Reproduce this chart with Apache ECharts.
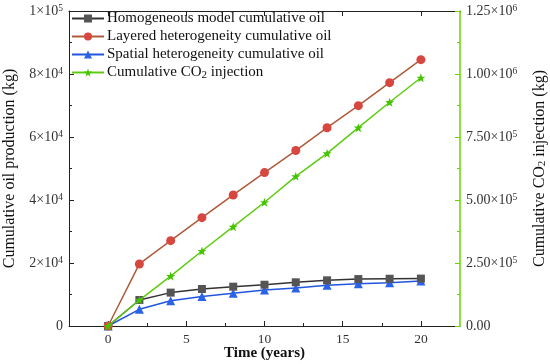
<!DOCTYPE html>
<html><head><meta charset="utf-8">
<script src="https://cdn.jsdelivr.net/npm/echarts@6/dist/echarts.min.js"></script>
<style>html,body{margin:0;padding:0;background:#fff}#c{width:550px;height:364px}</style>
</head><body><div id="c"></div>
<script>
const years = [0, 2, 4, 6, 8, 10, 12, 14, 16, 18, 20];
const homogeneousOil = [0, 8250, 10600, 11750, 12480, 13100, 13870, 14500, 14900, 15000, 15050];
const layeredOil = [0, 19700, 27100, 34400, 41600, 48700, 55700, 62950, 69950, 77250, 84550];
const spatialOil = [0, 5300, 8000, 9400, 10400, 11400, 12060, 12900, 13430, 13750, 14300];
const co2Injection = [0, 103000, 198000, 297500, 394000, 491000, 594000, 685000, 787000, 888000, 985000];
const seriesNames = ['Homogeneous model cumulative oil', 'Layered heterogeneity cumulative oil', 'Spatial heterogeneity cumulative oil', 'Cumulative CO2 injection'];
const xTickLabels = ['0', '5', '10', '15', '20'];
const xTickValues = [0, 5, 10, 15, 20];
const xMinorValues = [2.5, 7.5, 12.5, 17.5];
const leftTickLabels = ['0', '2×10{sup|4}', '4×10{sup|4}', '6×10{sup|4}', '8×10{sup|4}', '1×10{sup|5}'];
const rightTickLabels = ['0.00', '2.50×10{sup|5}', '5.00×10{sup|5}', '7.50×10{sup|5}', '1.00×10{sup|6}', '1.25×10{sup|6}'];

const serif = 'Liberation Serif';
const richSup = { sup: { fontSize: 9.5, verticalAlign: 'top', padding: [0, 0, 6, 0], fontFamily: serif, color: '#333' } };
const pair = (xs, ys) => xs.map((x, i) => [x, ys[i]]);

const chart = echarts.init(document.getElementById('c'));
chart.setOption({
  animation: false,
  grid: { left: 69, right: 90, top: 11, bottom: 38, outerBoundsMode: 'none', containLabel: false },
  legend: {
    orient: 'vertical', left: 66, top: 6, itemWidth: 32, itemHeight: 10, itemGap: 3,
    textStyle: { fontFamily: serif, fontSize: 15, color: '#111', padding: [0,0,0,-2], rich: { sub: { fontFamily: serif, fontSize: 11, verticalAlign: 'bottom', padding: [6, 0, 0, 0], color: '#111' }, n: {fontFamily: serif, fontSize: 15, color: '#111'} } },
    formatter: n => n === 'Cumulative CO2 injection' ? '{n|Cumulative CO}{sub|2}{n| injection}' : n,
    data: seriesNames
  },
  xAxis: [
    { type: 'value', min: -2.5, max: 22.5, position: 'bottom',
      name: 'Time (years)', nameLocation: 'middle', nameGap: 20, nameMoveOverlap: false,
      nameTextStyle: { fontFamily: serif, fontSize: 15, fontWeight: 'bold', color: '#111' },
      axisLine: { onZero: false, lineStyle: { color: '#222', width: 1 } },
      axisTick: { inside: true, length: 5, customValues: xTickValues, lineStyle: { color: '#222' } },
      axisLabel: { customValues: xTickValues, formatter: v => xTickLabels[xTickValues.indexOf(v)] || '', fontFamily: serif, fontSize: 13.5, color: '#333', margin: 6 },
      splitLine: { show: false } },
    { type: 'value', min: -2.5, max: 22.5, position: 'bottom',
      axisLine: { show: false, onZero: false },
      axisTick: { inside: true, length: 3, customValues: xMinorValues, lineStyle: { color: '#222' } },
      axisLabel: { show: false }, splitLine: { show: false } },
    { type: 'value', min: -2.5, max: 22.5, position: 'top',
      axisLine: { onZero: false, lineStyle: { color: '#222', width: 1 } },
      axisTick: { inside: true, length: 5, customValues: xTickValues, lineStyle: { color: '#222' } },
      axisLabel: { show: false }, splitLine: { show: false } }
  ],
  yAxis: [
    { type: 'value', min: 0, max: 100000, interval: 20000, position: 'left',
      name: 'Cumulative oil production (kg)', nameLocation: 'middle', nameGap: 51, nameRotate: 90, nameMoveOverlap: false,
      nameTextStyle: { fontFamily: serif, fontSize: 16, color: '#111' },
      axisLine: { show: true, onZero: false, lineStyle: { color: '#222' } },
      axisTick: { inside: true, length: 5, lineStyle: { color: '#222' } },
      minorTick: { show: true, splitNumber: 2, length: 3, lineStyle: { color: '#222' } },
      axisLabel: { formatter: (v) => leftTickLabels[Math.round(v / 20000)], fontFamily: serif, fontSize: 14, color: '#333', margin: 6, rich: Object.assign({}, richSup) },
      splitLine: { show: false } },
    { type: 'value', min: 0, max: 1250000, interval: 250000, position: 'right',
      name: 'Cumulative CO{sub|2} injection (kg)', nameLocation: 'middle', nameGap: 72, nameRotate: 90, nameMoveOverlap: false,
      nameTextStyle: { fontFamily: serif, fontSize: 16, color: '#111', rich: { sub: { fontFamily: serif, fontSize: 11, color: '#111', padding: [0,0,0,0], verticalAlign: 'bottom' } } },
      axisLine: { show: true, onZero: false, lineStyle: { color: '#66d600', width: 1.5 } },
      axisTick: { inside: true, length: 5, lineStyle: { color: '#66d600' } },
      minorTick: { show: true, splitNumber: 2, length: 3, lineStyle: { color: '#66d600' } },
      axisLabel: { formatter: (v) => rightTickLabels[Math.round(v / 250000)], fontFamily: serif, fontSize: 14, color: '#333', margin: 6, rich: Object.assign({}, richSup) },
      splitLine: { show: false } }
  ],
  series: [
    { name: seriesNames[0], type: 'line', xAxisIndex: 0, yAxisIndex: 0, data: pair(years, homogeneousOil),
      symbol: 'rect', symbolSize: 8, lineStyle: { color: '#333', width: 1.5 }, itemStyle: { color: '#555' }, z: 3 },
    { name: seriesNames[1], type: 'line', xAxisIndex: 0, yAxisIndex: 0, data: pair(years, layeredOil),
      symbol: 'circle', symbolSize: 9, lineStyle: { color: '#b05a3a', width: 1.5 }, itemStyle: { color: '#d8473f' }, z: 3 },
    { name: seriesNames[2], type: 'line', xAxisIndex: 0, yAxisIndex: 0, data: pair(years, spatialOil),
      symbol: 'triangle', symbolSize: 9, lineStyle: { color: '#2255dd', width: 1.5 }, itemStyle: { color: '#2a62e8' }, z: 2 },
    { name: seriesNames[3], type: 'line', xAxisIndex: 0, yAxisIndex: 1, data: pair(years, co2Injection),
      symbol: 'path://M0,-10 L2.4,-3.2 9.5,-3.1 3.8,1.2 5.9,8.1 0,4 -5.9,8.1 -3.8,1.2 -9.5,-3.1 -2.4,-3.2Z', symbolSize: 9, lineStyle: { color: '#5ccc10', width: 1.5 }, itemStyle: { color: '#44c400' }, z: 4 }
  ]
});
</script>
</body></html>
